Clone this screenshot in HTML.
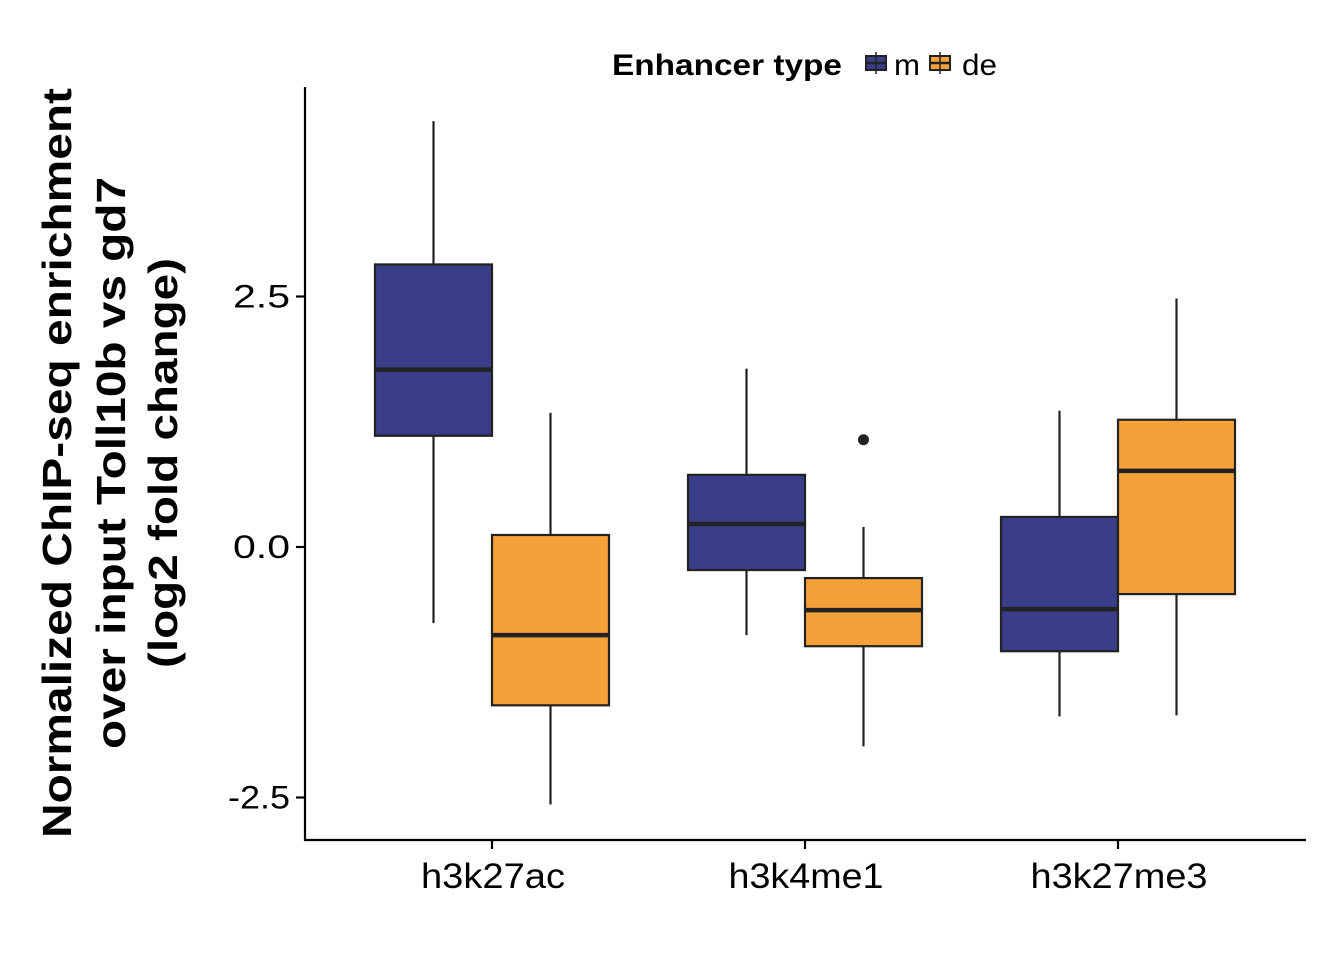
<!DOCTYPE html>
<html><head><meta charset="utf-8"><style>
body{margin:0;background:#fff;}
svg text{font-family:"Liberation Sans",Arial,sans-serif;}
</style></head><body>
<svg width="1344" height="960" viewBox="0 0 1344 960">
<g id="plot"></g>
</svg>
<script>
const categories=["h3k27ac","h3k4me1","h3k27me3"];
const groups=["m","de"];
const colors=["#3a3e88","#f5a13a"];
// [whiskerLow, Q1, median, Q3, whiskerHigh]
const mStats=[[-0.76,1.11,1.77,2.82,4.25],[-0.88,-0.23,0.23,0.72,1.78],[-1.69,-1.04,-0.62,0.30,1.36]];
const deStats=[[-2.57,-1.58,-0.88,0.12,1.34],[-1.99,-0.99,-0.63,-0.31,0.20],[-1.68,-0.47,0.76,1.27,2.48]];
const outliers=[[1,1,1.07]]; // [catIndex, groupIndex, value]
const yTicks=[-2.5,0,2.5];
const yTickLabels=["-2.5","0.0","2.5"];

const NS="http://www.w3.org/2000/svg";
const g=document.getElementById('plot');
function y(v){return 547-100.2*v;}
function xc(i){return 492+i*313;}
function el(t,a,txt){const e=document.createElementNS(NS,t);for(const k in a)e.setAttribute(k,a[k]);if(txt!==undefined)e.textContent=txt;g.appendChild(e);return e;}
const bw=117;
[mStats,deStats].forEach((stats,gi)=>{
  stats.forEach((s,ci)=>{
    const x0=xc(ci)+(gi===0?-bw:0), cx=x0+bw/2;
    let e=el('line',{x1:cx,x2:cx,y1:y(s[4]),y2:y(s[0]),stroke:'#222','stroke-width':2.2});
    
    
    e=el('rect',{x:x0,y:y(s[3]),width:bw,height:y(s[1])-y(s[3]),fill:colors[gi],stroke:'#222','stroke-width':2.2});
    
    
    e=el('line',{x1:x0,x2:x0+bw,y1:y(s[2]),y2:y(s[2]),stroke:'#222','stroke-width':4.5});
    
    
  });
});
outliers.forEach(o=>{
  const cx=xc(o[0])+(o[1]===0?-bw/2:bw/2);
  const e=el('circle',{cx:cx,cy:y(o[2]),r:5.5,fill:'#222'});
  
  
});
// axes
let a=el('line',{x1:305,x2:305,y1:87,y2:841,stroke:'#000','stroke-width':2.2});

a=el('line',{x1:304,x2:1306,y1:840,y2:840,stroke:'#000','stroke-width':2.2});

yTicks.forEach((v,i)=>{
  let t=el('line',{x1:296,x2:305,y1:y(v),y2:y(v),stroke:'#000','stroke-width':2.2});
  
  const lbl=yTickLabels[i];
  t=el('text',{x:290,y:y(v)+11,'text-anchor':'end','font-size':32,fill:'#000',textLength:lbl.length===4?62:57,lengthAdjust:'spacingAndGlyphs'},lbl);
  
});
const xLabelW=[144,155,177];
categories.forEach((c,i)=>{
  let t=el('line',{x1:xc(i),x2:xc(i),y1:840,y2:849,stroke:'#000','stroke-width':2.2});
  
  t=el('text',{x:xc(i)+1,y:888,'text-anchor':'middle','font-size':35,fill:'#000',textLength:xLabelW[i],lengthAdjust:'spacingAndGlyphs'},c);
  
});
// y title
const lines=["Normalized ChIP-seq enrichment","over input Toll10b vs gd7","(log2 fold change)"];
const lx=[71,125,177];
const lw=[750,572,410];
lines.forEach((l,i)=>{
  const t=el('text',{x:lx[i],y:463,'text-anchor':'middle','font-size':41,'font-weight':'bold',textLength:lw[i],lengthAdjust:'spacingAndGlyphs',transform:'rotate(-90 '+lx[i]+' 463)'},l);
  
});
// legend
let t=el('text',{x:612,y:75,'font-size':30,'font-weight':'bold',textLength:230,lengthAdjust:'spacingAndGlyphs'},"Enhancer type");

const lg=[[866,894,"m",26],[930,962,"de",35]];
lg.forEach((L,i)=>{
  let e=el('rect',{x:L[0],y:56,width:20,height:14,fill:colors[i],stroke:'#222','stroke-width':2});
  
  el('line',{x1:L[0],x2:L[0]+20,y1:63,y2:63,stroke:'#222','stroke-width':2.5});
  el('line',{x1:L[0]+10,x2:L[0]+10,y1:52,y2:74,stroke:'#222','stroke-width':1.5});
  e=el('text',{x:L[1],y:75,'font-size':30,textLength:L[3],lengthAdjust:'spacingAndGlyphs'},L[2]);
  
});
</script>
</body></html>
